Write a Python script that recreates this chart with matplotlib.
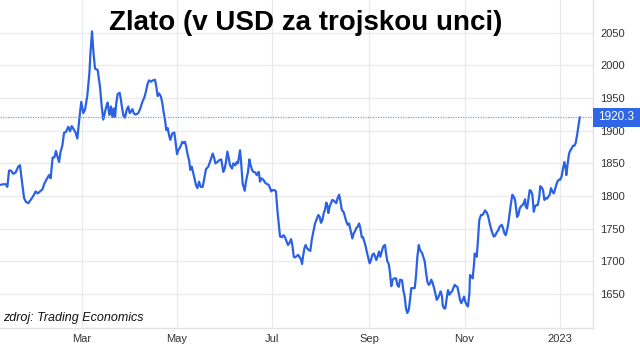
import numpy as np
import matplotlib
matplotlib.use("Agg")
import matplotlib.pyplot as plt
from matplotlib import font_manager as fm
from matplotlib.patches import Rectangle
from matplotlib.transforms import blended_transform_factory

# ---- data (day offset from 2022-01-01, gold price USD/oz) ----
days = [
    6.7, 8.8, 10.3, 11.4, 12.5, 13.7, 15.2, 16.7, 18.4, 19.5, 20.6, 22.1, 23.3, 24.8, 26.3, 28.0,
    29.5, 30.8, 32.3, 33.8, 35.1, 36.6, 38.1, 39.1, 40.4, 41.5, 42.5, 43.4, 44.5, 45.5, 46.6, 47.7,
    48.9, 50.4, 51.5, 52.6, 54.1, 54.9, 56.2, 57.5, 58.7, 60.0, 61.1, 62.6, 63.9, 64.7, 65.6, 66.4,
    67.5, 69.2,
    70.7, 71.8, 72.8, 73.9, 75.0, 75.6, 76.7, 77.7, 78.6, 79.5, 80.3, 81.1, 82.0, 83.3, 84.1, 85.0,
    85.9, 86.7, 87.8, 88.8, 89.7, 90.5, 91.4, 92.3, 93.1, 93.9, 95.2, 96.5, 97.8, 99.1, 99.9, 101.2,
    102.1, 103.3, 104.6, 105.9, 106.7, 107.6, 108.5, 109.7, 110.6, 111.5, 112.3, 113.1, 114.0, 114.9,
    115.7, 117.0, 118.3, 119.1, 120.0, 120.8, 122.1, 123.4, 124.3, 125.1, 125.9, 126.8, 127.7, 128.5,
    129.4, 130.2, 131.3,
    132.1, 133.0, 134.1, 135.1, 136.4, 137.3, 138.5, 140.0, 141.5, 142.8, 143.7, 144.5, 145.8, 147.1,
    148.3, 149.6, 150.5, 151.3, 152.2, 153.1, 153.9, 155.2, 156.0, 157.3, 158.2, 159.0, 160.3, 160.9,
    162.0, 163.3, 164.1, 165.4, 166.3, 167.1, 168.0, 168.8, 170.1, 171.0, 172.3, 173.1, 173.9, 175.2,
    176.5, 177.8, 178.7, 179.5, 180.3, 181.2, 182.5, 183.3, 184.2, 185.1, 185.9, 187.2, 188.0, 188.9,
    189.7, 191.0, 191.9,
    193.0, 193.8, 194.7, 195.5, 196.6, 197.6, 198.5, 199.3, 200.0, 200.6, 201.5, 202.3, 203.2, 204.5,
    205.3, 206.2, 207.5, 208.3, 209.6, 210.4, 211.3, 212.1, 213.0, 213.9, 214.7, 215.5, 216.4, 216.8,
    217.7, 218.5, 219.4, 220.3, 221.1, 221.9, 222.8, 223.7, 224.5, 225.4, 226.7, 227.5, 228.3, 229.2,
    230.1, 230.9, 232.2, 233.1, 233.9, 234.7, 235.6, 236.5, 237.3, 238.2, 239.0, 239.9, 240.7, 241.6,
    242.4, 243.3, 244.1, 245.0, 245.9, 246.7, 247.5, 248.4, 249.3, 250.1, 251.0, 252.0, 253.1,
    253.7, 254.6, 255.5, 256.3, 257.1, 258.0, 258.9, 260.1, 261.0, 261.9, 262.7, 264.0, 264.8, 265.7,
    266.5, 267.4, 268.3, 269.1, 269.9, 270.8, 272.1, 272.9, 273.8, 274.7, 275.5, 276.8, 277.6, 278.5,
    279.3, 280.2, 281.1, 281.9, 282.7, 283.6, 284.5, 285.3, 286.2, 287.0, 287.9, 288.7, 289.6, 290.0,
    290.9, 291.7, 292.6, 293.4, 294.3, 295.1, 296.0, 296.8, 297.7, 298.5, 299.4, 300.3, 301.1, 301.9,
    302.8, 303.7, 304.5, 305.4, 306.2, 307.1, 307.5, 308.3, 309.2, 310.1, 310.5, 311.3, 311.8, 312.6,
    313.4,
    314.5, 315.4, 316.3, 317.1, 318.4, 319.2, 320.1, 321.4, 322.7, 323.5, 324.3, 325.6, 326.5, 327.8,
    328.6, 329.5, 330.3, 331.2, 332.0, 332.9, 333.7, 334.6, 335.5, 336.3, 337.1, 337.6, 338.4, 339.3,
    340.1, 341.0, 341.9, 342.7, 343.1, 344.0, 344.8, 345.7, 346.5, 347.4, 348.3, 349.1, 349.9, 350.8,
    351.7, 352.5, 353.4, 354.2, 355.1, 356.0, 356.8, 357.6, 358.5, 359.3, 360.2, 361.1, 361.9, 362.7,
    363.6, 364.5, 365.3, 366.2, 367.0, 367.9, 368.8, 369.1, 370.0, 370.9, 371.7, 372.6, 373.4, 374.3,
    375.1, 376.0, 376.8, 377.7,
]
prices = [
    1817, 1818, 1818, 1814, 1839, 1839, 1834, 1836, 1845, 1847, 1825, 1797, 1791, 1789, 1794, 1800,
    1807, 1804, 1807, 1810, 1819, 1826, 1832, 1827, 1859, 1859, 1869, 1861, 1852, 1868, 1877, 1897,
    1898, 1906, 1899, 1907, 1901, 1898, 1888, 1919, 1944, 1927, 1932, 1954, 1988, 2023, 2052, 2023,
    1995, 1993,
    1967, 1937, 1917, 1929, 1939, 1943, 1924, 1937, 1921, 1934, 1921, 1942, 1956, 1958, 1947, 1932,
    1921, 1920, 1932, 1937, 1927, 1929, 1933, 1927, 1925, 1925, 1927, 1934, 1944, 1951, 1958, 1972,
    1977, 1975, 1977, 1978, 1968, 1953, 1957, 1952, 1942, 1927, 1916, 1901, 1904, 1893,
    1886, 1896, 1897, 1881, 1864, 1870, 1875, 1883, 1881, 1883, 1875, 1863, 1855, 1840,
    1845, 1837, 1825,
    1817, 1812, 1822, 1814, 1814, 1825, 1841, 1845, 1855, 1865, 1859, 1850, 1852, 1855,
    1856, 1837, 1842, 1852, 1868, 1858, 1847, 1842, 1850, 1847, 1852, 1850, 1870, 1855,
    1819, 1808, 1822, 1837, 1856, 1847, 1840, 1837, 1836, 1832, 1837, 1822, 1827, 1825,
    1820, 1818, 1817, 1812, 1807, 1809, 1809, 1807, 1779, 1758, 1738, 1737, 1740, 1738,
    1733, 1725, 1728,
    1734, 1725, 1707, 1706, 1708, 1710, 1706, 1703, 1696, 1707, 1720, 1725, 1720, 1717,
    1716, 1733, 1748, 1758, 1766, 1771, 1768, 1759, 1763, 1774, 1779, 1790, 1784, 1774,
    1784, 1789, 1794, 1793, 1791, 1789, 1797, 1802, 1793, 1779, 1775, 1768, 1761, 1756,
    1758, 1749, 1735, 1743, 1746, 1751, 1753, 1758, 1751, 1737, 1737, 1730, 1723, 1713,
    1705, 1697, 1702, 1710, 1712, 1708, 1702, 1708, 1715, 1707, 1715, 1723, 1725,
    1713, 1700, 1696, 1682, 1662, 1672, 1674, 1674, 1664, 1661, 1672, 1671, 1656, 1646,
    1628, 1621, 1626, 1641, 1659, 1659, 1659, 1677, 1707, 1725, 1717, 1713, 1707, 1700,
    1684, 1669, 1664, 1666, 1672, 1667, 1659, 1651, 1641, 1644, 1649, 1654, 1646, 1633,
    1628, 1628, 1644, 1656, 1649, 1652, 1654, 1659, 1664, 1662, 1661, 1651, 1641, 1636,
    1641, 1646, 1638, 1633, 1631, 1651, 1679, 1677, 1674, 1697, 1712, 1710, 1707, 1733,
    1763,
    1771, 1771, 1774, 1778, 1774, 1768, 1758, 1746, 1738, 1739, 1743, 1748, 1753, 1756,
    1751, 1743, 1740, 1748, 1758, 1774, 1789, 1802, 1799, 1794, 1779, 1768, 1771, 1781,
    1784, 1786, 1789, 1795, 1784, 1781, 1794, 1809, 1808, 1802, 1776, 1784, 1786, 1786,
    1797, 1815, 1813, 1809, 1794, 1797, 1796, 1799, 1802, 1812, 1807, 1804, 1810, 1817,
    1823, 1825, 1825, 1831, 1842, 1852, 1841, 1832, 1850, 1865, 1870, 1873, 1877, 1877,
    1881, 1893, 1906, 1920.3,
]
last_value = 1920.3
y_ticks = [1650, 1700, 1750, 1800, 1850, 1900, 1950, 2000, 2050]
x_tick_dates = ["2022-03-01", "2022-05-01", "2022-07-01", "2022-09-01", "2022-11-01", "2023-01-01"]
x_tick_labels = ["Mar", "May", "Jul", "Sep", "Nov", "2023"]
title = "Zlato (v USD za trojskou unci)"
source = "zdroj: Trading Economics"

base = np.datetime64("2022-01-01T00:00")
dates = base + (np.array(days) * 24 * 60).astype("timedelta64[m]")

def pick(*names):
    avail = {f.name for f in fm.fontManager.ttflist}
    for n in names:
        if n in avail:
            return n
    return "DejaVu Sans"

sans = pick("Liberation Sans", "Arial", "DejaVu Sans")

LINE = "#2b62e3"
fig = plt.figure(figsize=(6.4, 3.48), dpi=100)
ax = fig.add_axes([0.0, 1 - 328 / 348, 593 / 640, 328 / 348])

ax.plot(dates, prices, color=LINE, lw=1.6, solid_joinstyle="round")
ax.axhline(last_value, color="#7f9ff2", lw=0.9, ls=(0, (1, 1)))

xmin = base + np.timedelta64(int(6.7 * 1440), "m")
xmax = base + np.timedelta64(int(386.2 * 1440), "m")
ax.set_xlim(xmin, xmax)
ax.set_ylim(1598, 2100)

ax.set_yticks(y_ticks)
ax.set_xticks([np.datetime64(d) for d in x_tick_dates])
ax.set_xticklabels(x_tick_labels)
ax.yaxis.tick_right()
ax.tick_params(axis="both", length=0, labelsize=8, labelcolor="#333333")
ax.tick_params(axis="y", pad=5)
ax.tick_params(axis="x", pad=4)
for lab in ax.get_xticklabels() + ax.get_yticklabels():
    lab.set_fontfamily(sans)

ax.grid(True, color="#ebebeb", lw=1)
ax.set_axisbelow(True)
for s in ["top", "left"]:
    ax.spines[s].set_visible(False)
for s in ["bottom", "right"]:
    ax.spines[s].set_color("#e2e2e2")
    ax.spines[s].set_linewidth(1)

# value label box at the right edge
trans = blended_transform_factory(fig.transFigure, ax.transData)
box_h = 19 / 328 * (2100 - 1598)
fig.add_artist(Rectangle((593 / 640, last_value - box_h / 2), 1 - 593 / 640, box_h,
                         transform=trans, facecolor="#2f66e8", edgecolor="none",
                         clip_on=False, zorder=5))
fig.text(0.9625, last_value, f"{last_value:.1f}", transform=trans, ha="center", va="center",
         fontsize=8.5, color="white", fontfamily=sans, zorder=6)

fig.text(0.478, 0.972, title, ha="center", va="top", fontsize=20, fontweight="bold",
         fontfamily=sans, color="black")
fig.text(0.005, 1 - 318 / 348, source, ha="left", va="center", fontsize=9,
         fontstyle="italic", fontfamily=sans, color="#111111")

fig.savefig("out.png", dpi=100)
